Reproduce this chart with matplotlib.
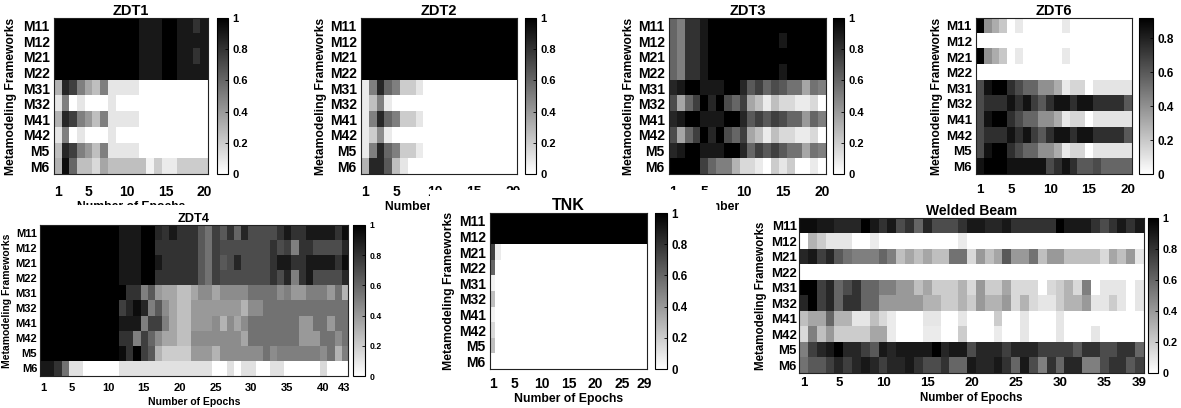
import matplotlib
matplotlib.use("Agg")
import matplotlib.pyplot as plt
from matplotlib.patches import Rectangle
import numpy as np

plt.rcParams['font.family'] = ['Liberation Sans', 'DejaVu Sans']
plt.rcParams['font.weight'] = 'bold'

W, H = 1181, 408

frameworks = ['M11', 'M12', 'M21', 'M22', 'M31', 'M32', 'M41', 'M42', 'M5', 'M6']

# share of runs per framework and epoch, rows follow `frameworks`
zdt1 = [
    [1, 1, 1, 1, 1, 1, 1, 1, 1, 1, 1, .9, .9, .9, 1, 1, .9, .9, .8, .9],
    [1, 1, 1, 1, 1, 1, 1, 1, 1, 1, 1, .9, .9, .9, 1, 1, .9, .9, .9, .9],
    [1, 1, 1, 1, 1, 1, 1, 1, 1, 1, 1, .9, .9, .9, 1, 1, .9, .9, .8, .9],
    [1, 1, 1, 1, 1, 1, 1, 1, 1, 1, 1, .9, .9, .9, 1, 1, .9, .9, .9, .9],
    [.3, .85, .75, .5, .35, .25, .5, .1, .1, .1, .1, 0, 0, 0, 0, 0, 0, 0, 0, 0],
    [.1, .5, 0, .1, 0, 0, 0, .1, 0, 0, 0, 0, 0, 0, 0, 0, 0, 0, 0, 0],
    [.3, .85, .75, .5, .4, .25, .5, .1, .1, .1, .1, 0, 0, 0, 0, 0, 0, 0, 0, 0],
    [.1, .5, 0, .1, 0, 0, 0, .1, 0, 0, 0, 0, 0, 0, 0, 0, 0, 0, 0, 0],
    [.25, .85, .75, .5, .4, .25, .5, .1, .1, .1, .1, 0, 0, 0, 0, 0, 0, 0, 0, 0],
    [.3, .95, .6, .25, .25, .15, .35, .25, .25, .25, .25, .25, .05, .2, .08, .08, .2, .2, .2, .2],
]

zdt2 = [
    [1, 1, 1, 1, 1, 1, 1, 1, 1, 1, 1, 1, 1, 1, 1, 1, 1, 1, 1, 1],
    [1, 1, 1, 1, 1, 1, 1, 1, 1, 1, 1, 1, 1, 1, 1, 1, 1, 1, 1, 1],
    [1, 1, 1, 1, 1, 1, 1, 1, 1, 1, 1, 1, 1, 1, 1, 1, 1, 1, 1, 1],
    [1, 1, 1, 1, 1, 1, 1, 1, 1, 1, 1, 1, 1, 1, 1, 1, 1, 1, 1, 1],
    [.08, .5, .85, .6, .5, .2, .2, .1, 0, 0, 0, 0, 0, 0, 0, 0, 0, 0, 0, 0],
    [.08, .25, .5, .08, 0, 0, 0, 0, 0, 0, 0, 0, 0, 0, 0, 0, 0, 0, 0, 0],
    [.08, .5, .85, .6, .5, .2, .2, .1, 0, 0, 0, 0, 0, 0, 0, 0, 0, 0, 0, 0],
    [.08, .2, .45, .08, 0, 0, 0, 0, 0, 0, 0, 0, 0, 0, 0, 0, 0, 0, 0, 0],
    [.08, .5, .85, .6, .5, .2, .2, .08, 0, 0, 0, 0, 0, 0, 0, 0, 0, 0, 0, 0],
    [.3, .85, .85, .65, .25, .1, 0, 0, 0, 0, 0, 0, 0, 0, 0, 0, 0, 0, 0, 0],
]

zdt3 = [
    [.6, .5, .8, .8, .9, 1, 1, 1, 1, 1, 1, 1, 1, 1, 1, 1, 1, 1, 1, 1],
    [.6, .5, .8, .8, .9, 1, 1, 1, 1, 1, 1, 1, 1, 1, .9, 1, 1, 1, 1, 1],
    [.6, .5, .8, .8, .9, 1, 1, 1, 1, 1, 1, 1, 1, 1, 1, 1, 1, 1, 1, 1],
    [.6, .5, .8, .8, .9, 1, 1, 1, 1, 1, 1, 1, 1, 1, .9, 1, 1, 1, 1, 1],
    [.85, .9, 1, 1, .9, .9, .9, 1, 1, .85, .65, .75, .6, .7, .65, .55, .55, .35, .55, .5],
    [.7, .35, .6, .75, 1, .85, 1, .7, .6, .75, .35, .25, .08, .25, .15, .15, .08, .08, .15, 0],
    [.85, .9, 1, 1, .9, .9, .9, 1, 1, .85, .65, .75, .65, .75, .7, .6, .6, .4, .6, .5],
    [.7, .35, .6, .75, 1, .85, 1, .7, .6, .75, .35, .25, .08, .25, .15, .15, .08, .08, .15, 0],
    [.85, .9, 1, 1, .9, .9, .9, 1, 1, .85, .6, .75, .65, .75, .65, .55, .55, .35, .55, .5],
    [1, 1, 1, 1, .75, .6, .5, .5, .3, .15, .15, .08, 0, .2, .1, .2, 0, 0, .08, 0],
]

zdt6 = [
    [.92, .4, .3, .2, 0, .08, 0, 0, 0, 0, 0, .08, 0, 0, 0, 0, 0, 0, 0, 0],
    [0, 0, 0, 0, 0, 0, 0, 0, 0, 0, 0, 0, 0, 0, 0, 0, 0, 0, 0, 0],
    [.92, .4, .3, .2, 0, .08, 0, 0, 0, 0, 0, .08, 0, 0, 0, 0, 0, 0, 0, 0],
    [0, 0, 0, 0, 0, 0, 0, 0, 0, 0, 0, 0, 0, 0, 0, 0, 0, 0, 0, 0],
    [.65, .85, .92, .92, .75, .65, .55, .55, .4, .4, .3, .08, .15, .15, 0, .1, .1, .1, .1, .1],
    [.65, .75, .75, .75, .85, .75, .85, .7, .6, .75, .85, .85, .75, .85, .85, .75, .75, .75, .75, .6],
    [.65, .85, .92, .92, .75, .65, .55, .55, .4, .4, .3, .08, .15, .15, 0, .1, .1, .1, .1, .1],
    [.65, .75, .75, .75, .85, .75, .85, .7, .6, .75, .85, .85, .75, .85, .85, .75, .75, .75, .75, .6],
    [.65, .85, .92, .92, .75, .65, .55, .55, .4, .4, .3, .08, .15, .15, 0, .1, .1, .1, .1, .1],
    [.85, .92, .92, .92, .85, .85, .85, .85, .85, .65, .75, .85, .75, .6, .6, .65, .55, .55, .55, .55],
]

zdt4 = [
    [1, 1, 1, 1, 1, 1, 1, 1, 1, 1, 1, .9, .9, .9, 1, 1, .85, .8, .9, .8, .8, .8, .65, .55, .75, .65, .8, .6,
     .85, .7, .7, .7, .7, .8, .9, .8, .8, .9, .9, .9, .9, .8, .95],
    [1, 1, 1, 1, 1, 1, 1, 1, 1, 1, 1, .9, .9, .9, 1, 1, .8, .8, .8, .8, .8, .8, .65, .55, .75, .7, .7, .7,
     .7, .7, .7, .7, .8, .7, .75, .5, .8, .8, .7, .7, .7, .7, .85],
    [1, 1, 1, 1, 1, 1, 1, 1, 1, 1, 1, .9, .9, .9, 1, 1, .9, .8, .8, .8, .8, .8, .65, .55, .75, .65, .7, .85,
     .7, .7, .7, .7, .8, .9, .9, .8, .8, .9, .9, .9, .9, .8, .95],
    [1, 1, 1, 1, 1, 1, 1, 1, 1, 1, 1, .9, .9, .9, 1, 1, .8, .8, .8, .8, .8, .8, .65, .55, .75, .7, .7, .7,
     .7, .7, .7, .7, .8, .7, .85, .5, .8, .9, .7, .7, .7, .7, .85],
    [1, 1, 1, 1, 1, 1, 1, 1, 1, 1, 1, 1, .8, .8, .5, .65, .4, .35, .35, .25, .25, .35, .45, .45, .35, .45,
     .45, .45, .45, .55, .55, .55, .55, .45, .5, .4, .4, .5, .5, .5, .4, .55, .3],
    [1, 1, 1, 1, 1, 1, 1, 1, 1, 1, 1, .75, .85, .95, .85, .5, .65, .45, .35, .25, .25, .4, .4, .4, .4, .4,
     .4, .4, .3, .45, .45, .55, .55, .55, .55, .55, .55, .55, .55, .55, .55, .55, .55],
    [1, 1, 1, 1, 1, 1, 1, 1, 1, 1, 1, .9, .9, .9, .5, .75, .75, .5, .35, .25, .25, .4, .4, .4, .45, .3,
     .45, .35, .45, .55, .55, .55, .55, .55, .55, .55, .4, .4, .55, .55, .4, .55, .55],
    [1, 1, 1, 1, 1, 1, 1, 1, 1, 1, 1, .8, .8, .5, .75, .6, .45, .35, .35, .25, .25, .45, .45, .45, .45, .45,
     .45, .45, .35, .55, .55, .55, .55, .55, .55, .55, .4, .4, .4, .55, .55, .45, .55],
    [1, 1, 1, 1, 1, 1, 1, 1, 1, 1, 1, .95, .8, 1, .75, .65, .3, .2, .2, .2, .2, .4, .4, .4, .3, .45,
     .45, .45, .45, .45, .45, .55, .45, .5, .5, .5, .5, .5, .5, .45, .55, .3, .5],
    [.9, .9, .8, .55, .12, .12, 0, 0, 0, 0, 0, .12, .12, .12, .12, .12, .12, .12, .12, .12, .12, .12, .12,
     .12, 0, 0, .12, 0, .12, .12, 0, 0, .12, .12, 0, 0, 0, 0, 0, .15, 0, 0, 0],
]

tnk = [
    [1, 1, 1, 1, 1, 1, 1, 1, 1, 1, 1, 1, 1, 1, 1, 1, 1, 1, 1, 1, 1, 1, 1, 1, 1, 1, 1, 1, 1],
    [1, 1, 1, 1, 1, 1, 1, 1, 1, 1, 1, 1, 1, 1, 1, 1, 1, 1, 1, 1, 1, 1, 1, 1, 1, 1, 1, 1, 1],
    [.75, .08, 0, 0, 0, 0, 0, 0, 0, 0, 0, 0, 0, 0, 0, 0, 0, 0, 0, 0, 0, 0, 0, 0, 0, 0, 0, 0, 0],
    [.6, 0, 0, 0, 0, 0, 0, 0, 0, 0, 0, 0, 0, 0, 0, 0, 0, 0, 0, 0, 0, 0, 0, 0, 0, 0, 0, 0, 0],
    [.05, 0, 0, 0, 0, 0, 0, 0, 0, 0, 0, 0, 0, 0, 0, 0, 0, 0, 0, 0, 0, 0, 0, 0, 0, 0, 0, 0, 0],
    [.25, 0, 0, 0, 0, 0, 0, 0, 0, 0, 0, 0, 0, 0, 0, 0, 0, 0, 0, 0, 0, 0, 0, 0, 0, 0, 0, 0, 0],
    [.05, 0, 0, 0, 0, 0, 0, 0, 0, 0, 0, 0, 0, 0, 0, 0, 0, 0, 0, 0, 0, 0, 0, 0, 0, 0, 0, 0, 0],
    [.15, 0, 0, 0, 0, 0, 0, 0, 0, 0, 0, 0, 0, 0, 0, 0, 0, 0, 0, 0, 0, 0, 0, 0, 0, 0, 0, 0, 0],
    [.25, 0, 0, 0, 0, 0, 0, 0, 0, 0, 0, 0, 0, 0, 0, 0, 0, 0, 0, 0, 0, 0, 0, 0, 0, 0, 0, 0, 0],
    [0, 0, 0, 0, 0, 0, 0, 0, 0, 0, 0, 0, 0, 0, 0, 0, 0, 0, 0, 0, 0, 0, 0, 0, 0, 0, 0, 0, 0],
]

welded = [
    [.95, .95, .9, .9, .85, .85, .85, 1, .9, .8, .9, .7, .8, .6, .85, .7, .7, .7, .8, .9,
     .9, .85, .85, .9, .8, .8, .8, .8, .8, 1, .9, .9, .9, .8, .7, .8, .9, .8, .9],
    [0, .3, .2, .1, .1, .1, 0, 0, .08, 0, 0, 0, 0, 0, 0, 0, 0, 0, .08, 0,
     0, 0, 0, 0, 0, 0, 0, 0, 0, 0, 0, 0, 0, 0, 0, 0, 0, 0, 0],
    [.85, .9, .75, .85, .65, .55, .5, .5, .5, .6, .5, .25, .35, .25, .35, .25, .25, .55, .55, .15,
     .4, .25, .35, .65, .4, .4, .55, .25, .4, .4, .25, .25, .25, .25, .15, .35, .25, .4, .1],
    [0, 0, 0, 0, 0, 0, 0, 0, 0, 0, 0, 0, 0, 0, 0, 0, 0, 0, 0, 0,
     0, 0, 0, 0, 0, 0, 0, 0, 0, 0, 0, 0, 0, 0, 0, 0, 0, 0, 0],
    [1, 1, .75, .85, .6, .7, .8, .6, .6, .5, .5, .4, .4, .25, .35, .2, .2, .2, .3, .15,
     .4, .2, .2, .35, .15, .15, .15, 0, .15, .2, .3, .15, .5, 0, .1, .1, .1, 0, .1],
    [.85, 1, .75, .85, .6, .8, .8, .6, .6, .4, .4, .4, .4, .4, .3, .3, .2, .2, .3, .2,
     .4, .3, .3, .4, .15, .3, .15, .1, .1, .2, .3, .3, .4, .1, .1, .2, .1, 0, .1],
    [.25, .35, .35, .6, .3, .3, .1, .1, .25, .15, .08, 0, 0, 0, .1, .1, 0, 0, .1, 0,
     0, 0, .2, 0, 0, .1, 0, 0, 0, .1, 0, 0, 0, 0, 0, 0, 0, 0, 0],
    [.15, .5, .25, .4, .2, .2, .2, .2, .35, .35, .08, 0, 0, 0, .08, .08, 0, 0, .2, 0,
     0, 0, .08, 0, 0, .1, 0, 0, 0, .1, 0, 0, 0, .1, 0, 0, 0, 0, 0],
    [.5, .75, .85, .9, 1, .85, .85, .75, .65, .9, .85, .9, .9, .9, .9, 1, .85, .9, .9, .7,
     .85, .85, .85, .75, .85, .85, .85, .75, .75, .75, .75, .65, .8, .8, .7, .7, .8, .8, .6],
    [.55, .65, .65, .75, .85, .75, .85, .9, .85, .75, .85, .85, .9, .8, .7, .7, .8, .6, .6, .9,
     .85, .85, .9, .8, .6, .9, .7, .5, .8, .6, .85, .85, .5, .5, .7, .8, .8, .65, .75],
]

cb_full = [0, 0.2, 0.4, 0.6, 0.8, 1]
cb_full_labels = ['0', '0.2', '0.4', '0.6', '0.8', '1']
cb_short = [0, 0.2, 0.4, 0.6, 0.8]
cb_short_labels = ['0', '0.2', '0.4', '0.6', '0.8']

fig = plt.figure(figsize=(W / 100, H / 100), dpi=100)


def frac(box):
    x0, y0, x1, y1 = box
    return [x0 / W, 1 - y1 / H, (x1 - x0) / W, (y1 - y0) / H]


def panel(data, title, box, cbox, xticks, vmax, cticks, clabels, fs,
          front=False, xlabel=True):
    # fs: tick, colorbar, title, axis label sizes; pads in pt; label offsets in px
    tick_fs, cb_fs, title_fs, lab_fs, xpad, ypad, ylab_px, xlab_px = fs
    vals = np.array(data, dtype=float)
    n = vals.shape[1]
    ax = fig.add_axes(frac(box))
    cax = fig.add_axes(frac(cbox))
    if front:
        ax.set_zorder(2)
        cax.set_zorder(2)
    im = ax.imshow(vals, cmap='gray_r', vmin=0, vmax=vmax, aspect='auto',
                   interpolation='nearest', extent=(0.5, n + 0.5, 10.5, 0.5))
    ax.set_xticks(xticks)
    ax.set_xticklabels([str(t) for t in xticks])
    ax.set_yticks(range(1, 11))
    ax.set_yticklabels(frameworks)
    ax.tick_params(axis='both', length=0, labelsize=tick_fs)
    ax.tick_params(axis='x', pad=xpad)
    ax.tick_params(axis='y', pad=ypad)
    for s in ax.spines.values():
        s.set_linewidth(0.8)
        s.set_color('#222222')
    ax.set_title(title, fontsize=title_fs, fontweight='bold', pad=2)

    w_px = box[2] - box[0]
    h_px = box[3] - box[1]
    ax.set_ylabel('Metamodeling Frameworks', fontsize=lab_fs, fontweight='bold')
    ax.yaxis.set_label_coords(-ylab_px / w_px, 0.5)
    if xlabel:
        ax.set_xlabel('Number of Epochs', fontsize=lab_fs, fontweight='bold', va='top')
        ax.xaxis.set_label_coords(0.5, -xlab_px / h_px)

    cb = fig.colorbar(im, cax=cax)
    cb.set_ticks(cticks)
    cb.set_ticklabels(clabels)
    cb.outline.set_linewidth(0.8)
    cax.tick_params(labelsize=cb_fs, length=2, width=0.6, direction='in', pad=3)
    return ax


top_fs = (10, 8, 10.5, 8.7, 8, 3, 37, 27)

panel(zdt1, 'ZDT1', (54, 18, 208, 174), (217, 18, 228, 174),
      [1, 5, 10, 15, 20], 1, cb_full, cb_full_labels, top_fs)
panel(zdt2, 'ZDT2', (361, 18, 517, 174), (525, 18, 536, 174),
      [1, 5, 10, 15, 20], 1, cb_full, cb_full_labels, top_fs[:6] + (34, 27))
panel(zdt3, 'ZDT3', (669, 18, 826, 174), (833, 18, 844, 174),
      [1, 5, 10, 15, 20], 1, cb_full, cb_full_labels, top_fs[:6] + (34, 27))
# the ZDT6 x label sits entirely under the Welded Beam panel, so it is left out
panel(zdt6, 'ZDT6', (976, 18, 1132, 174), (1139, 18, 1153, 174),
      [1, 5, 10, 15, 20], 0.92, cb_short, cb_short_labels,
      (9.6, 8.5, 10.5, 8.7, 7, 3, 33, 27), xlabel=False)

# the lower panels sit on white backgrounds that hide part of the upper labels
for x0, y0, x1, y1 in [(0, 205, 383, H), (430, 190, 716, H), (740, 196, W, H)]:
    fig.add_artist(Rectangle((x0 / W, 1 - y1 / H), (x1 - x0) / W, (y1 - y0) / H,
                             transform=fig.transFigure, facecolor='white',
                             edgecolor='none', zorder=1))

panel(zdt4, 'ZDT4', (40, 225, 348, 376), (353, 225, 365, 376),
      [1, 5, 10, 15, 20, 25, 30, 35, 40, 43], 1, cb_full, cb_full_labels,
      (8, 6.2, 9.2, 7.5, 5, 2, 28, 21), front=True)
panel(tnk, 'TNK', (490, 213, 647, 369), (655, 213, 667, 369),
      [1, 5, 10, 15, 20, 25, 29], 1, cb_full, cb_full_labels,
      (10, 8.3, 11.5, 8.8, 5.5, 3, 35, 24), front=True)
panel(welded, 'Welded Beam', (799, 218, 1144, 373), (1148, 218, 1158, 373),
      [1, 5, 10, 15, 20, 25, 30, 35, 39], 1, cb_full, cb_full_labels,
      (9.5, 7.8, 10, 8.3, 3, 1.5, 32, 19), front=True)

fig.savefig('out.png', dpi=100, facecolor='white')
